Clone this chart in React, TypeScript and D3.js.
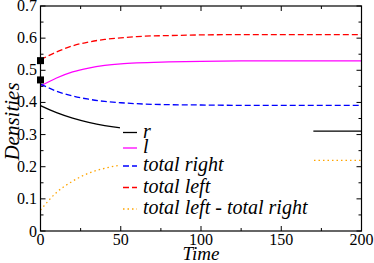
import React, { useEffect, useRef } from 'react';
import * as d3 from 'd3';

// sample times and values
const times = [0, 10, 20, 30, 40, 50, 60, 80, 100, 125, 150, 175, 200];
const rValues = [0.39, 0.368, 0.351, 0.338, 0.328, 0.321, 0.318, 0.314, 0.312, 0.311, 0.311, 0.311, 0.311];
const lValues = [0.451, 0.476, 0.495, 0.507, 0.515, 0.52, 0.523, 0.526, 0.528, 0.529, 0.529, 0.529, 0.529];
const totalRight = [0.457, 0.435, 0.42, 0.41, 0.403, 0.399, 0.396, 0.393, 0.392, 0.391, 0.391, 0.391, 0.391];
const totalLeft = [0.533, 0.557, 0.576, 0.588, 0.596, 0.601, 0.605, 0.608, 0.61, 0.611, 0.611, 0.611, 0.611];
const diffValues = [0.065, 0.12, 0.155, 0.18, 0.195, 0.205, 0.21, 0.216, 0.218, 0.22, 0.22, 0.22, 0.22];
const squareValues = [0.53, 0.47];
const xTicks = [0, 50, 100, 150, 200];
const yTicks = [0, 0.1, 0.2, 0.3, 0.4, 0.5, 0.6, 0.7];
const seriesNames = ['r', 'l', 'total right', 'total left', 'total left - total right'];

const series = [
  { name: seriesNames[0], values: rValues, color: '#000000', dash: null },
  { name: seriesNames[1], values: lValues, color: '#ff00ff', dash: null },
  { name: seriesNames[2], values: totalRight, color: '#0000ff', dash: '6,3' },
  { name: seriesNames[3], values: totalLeft, color: '#ff0000', dash: '6,3' },
  { name: seriesNames[4], values: diffValues, color: '#ffa500', dash: '1.5,3' },
];

const serif = "'Liberation Serif', 'Times New Roman', serif";

export default function App() {
  const ref = useRef<SVGSVGElement>(null);

  useEffect(() => {
    const svg = d3.select(ref.current);
    svg.selectAll('*').remove();
    const width = 374,
      height = 263;
    const margin = { top: 6, right: 12.5, bottom: 32, left: 40.5 };

    const x = d3.scaleLinear().domain([0, 200]).range([margin.left, width - margin.right]);
    const y = d3.scaleLinear().domain([0, 0.7]).range([height - margin.bottom, margin.top]);

    svg.append('rect').attr('width', width).attr('height', height).attr('fill', '#fff');

    const line = d3
      .line<number>()
      .x((d, i) => x(times[i]))
      .y((d) => y(d))
      .curve(d3.curveMonotoneX);

    series.forEach((s) => {
      svg
        .append('path')
        .attr('d', line(s.values))
        .attr('fill', 'none')
        .attr('stroke', s.color)
        .attr('stroke-width', 1.3)
        .attr('stroke-dasharray', s.dash);
    });

    squareValues.forEach((v) => {
      svg
        .append('rect')
        .attr('x', x(0) - 3.5)
        .attr('y', y(v) - 3.5)
        .attr('width', 7)
        .attr('height', 7)
        .attr('fill', '#000');
    });

    // legend with white background
    const leg = svg.append('g');
    leg
      .append('rect')
      .attr('x', x(49.5))
      .attr('y', y(0.345))
      .attr('width', x(170) - x(49.5))
      .attr('height', y(0.03) - y(0.345))
      .attr('fill', '#fff');
    const legendY = [132.5, 148, 166, 187.5, 209];
    series.forEach((s, i) => {
      leg
        .append('line')
        .attr('x1', 123)
        .attr('x2', 137)
        .attr('y1', legendY[i])
        .attr('y2', legendY[i])
        .attr('stroke', s.color)
        .attr('stroke-width', 1.3)
        .attr('stroke-dasharray', s.dash);
      leg
        .append('text')
        .attr('x', 143)
        .attr('y', legendY[i] + 5)
        .style('font-family', serif)
        .attr('font-style', 'italic')
        .attr('font-size', 20)
        .text(s.name);
    });

    // frame and ticks
    const frame = svg.append('g');
    frame
      .append('rect')
      .attr('x', x(0))
      .attr('y', y(0.7))
      .attr('width', x(200) - x(0))
      .attr('height', y(0) - y(0.7))
      .attr('fill', 'none')
      .attr('stroke', '#000')
      .attr('stroke-width', 1.2);

    d3.range(0, 201, 25).forEach((t) => {
      const len = t % 50 === 0 ? 5 : 3;
      frame.append('line').attr('x1', x(t)).attr('x2', x(t)).attr('y1', y(0)).attr('y2', y(0) - len).attr('stroke', '#000');
      frame.append('line').attr('x1', x(t)).attr('x2', x(t)).attr('y1', y(0.7)).attr('y2', y(0.7) + len).attr('stroke', '#000');
    });
    d3.range(0, 15).forEach((k) => {
      const v = k * 0.05;
      const len = k % 2 === 0 ? 5 : 3;
      frame.append('line').attr('x1', x(0)).attr('x2', x(0) + len).attr('y1', y(v)).attr('y2', y(v)).attr('stroke', '#000');
      frame.append('line').attr('x1', x(200)).attr('x2', x(200) - len).attr('y1', y(v)).attr('y2', y(v)).attr('stroke', '#000');
    });

    xTicks.forEach((t) => {
      svg
        .append('text')
        .attr('x', x(t))
        .attr('y', y(0) + 14)
        .attr('text-anchor', 'middle')
        .style('font-family', serif)
        .attr('font-size', 16)
        .text(t);
    });
    yTicks.forEach((v) => {
      svg
        .append('text')
        .attr('x', x(0) - 3.5)
        .attr('y', y(v) + (v === 0 ? 6 : 5))
        .attr('text-anchor', 'end')
        .style('font-family', serif)
        .attr('font-size', 16)
        .text(v === 0 ? '0' : v.toFixed(1));
    });

    svg
      .append('text')
      .attr('x', (x(0) + x(200)) / 2)
      .attr('y', 260)
      .attr('text-anchor', 'middle')
      .style('font-family', serif)
      .attr('font-style', 'italic')
      .attr('font-size', 19)
      .text('Time');
    svg
      .append('text')
      .attr('transform', `translate(18.5, ${(y(0) + y(0.7)) / 2 + 3}) rotate(-90)`)
      .attr('text-anchor', 'middle')
      .style('font-family', serif)
      .attr('font-style', 'italic')
      .attr('font-size', 21)
      .text('Densities');
  }, []);

  return (
    <svg
      ref={ref}
      width={374}
      height={263}
      style={{ position: 'absolute', left: 0, top: 0, display: 'block' }}
    />
  );
}
